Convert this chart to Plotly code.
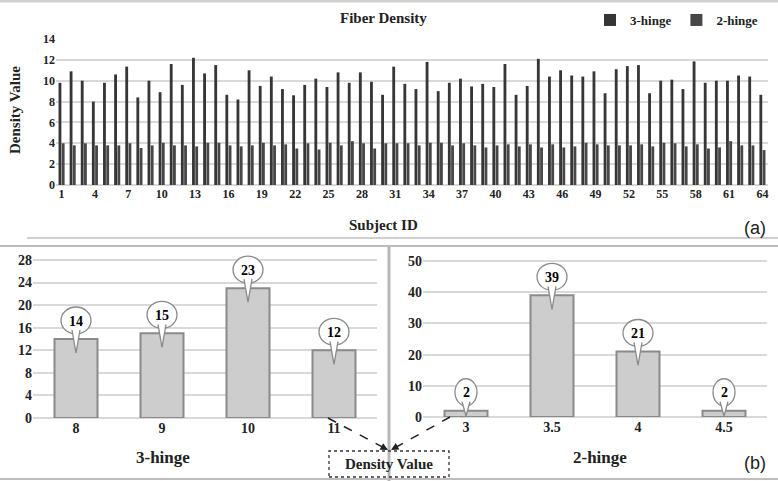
import plotly.graph_objects as go

# ---------------- data ----------------
subject_ids = list(range(1, 65))
hinge3_density = [9.8, 10.9, 10.0, 8.0, 9.8, 10.6, 11.35, 8.4, 10.0, 8.9,
                  11.6, 9.6, 12.2, 10.7, 11.5, 8.65, 8.2, 11.0, 9.5, 10.4,
                  9.2, 8.6, 9.6, 10.2, 9.4, 10.8, 9.8, 10.8, 9.9, 8.65,
                  11.35, 9.7, 9.2, 11.8, 9.0, 9.8, 10.2, 9.45, 9.7, 9.4,
                  11.6, 8.65, 9.5, 12.1, 10.4, 11.0, 10.5, 10.4, 10.9, 8.8,
                  11.1, 11.4, 11.5, 8.8, 10.0, 10.1, 9.2, 11.85, 9.8, 10.0,
                  10.0, 10.5, 10.4, 8.65]
hinge2_density = [4.0, 3.8, 4.0, 3.8, 3.8, 3.8, 4.0, 3.55, 3.8, 4.05,
                  3.8, 3.8, 3.7, 4.05, 4.05, 3.8, 3.7, 3.8, 4.05, 3.8,
                  3.9, 3.5, 4.0, 3.4, 4.05, 3.8, 4.2, 4.0, 3.5, 4.0,
                  4.0, 4.0, 3.8, 4.05, 4.05, 3.8, 4.0, 3.8, 3.6, 3.8,
                  3.9, 3.7, 3.9, 3.6, 3.9, 3.6, 3.7, 4.05, 3.9, 3.8,
                  3.8, 3.8, 3.9, 3.7, 4.05, 4.0, 3.7, 3.9, 3.5, 3.6,
                  4.2, 3.8, 3.8, 3.35]
top_tickvals = list(range(1, 65, 3))

hinge3_bins = ["8", "9", "10", "11"]
hinge3_counts = [14, 15, 23, 12]
hinge3_ticks = [0, 4, 8, 12, 16, 20, 24, 28]
hinge2_bins = ["3", "3.5", "4", "4.5"]
hinge2_counts = [2, 39, 21, 2]
hinge2_ticks = [0, 10, 20, 30, 40, 50]

# ---------------- layout helpers ----------------
W, H = 778, 481
def px(x):
    return x / W
def py(y):
    return 1 - y / H

SERIF = "Liberation Serif, Times New Roman, serif"
SANS = "Liberation Sans, Arial, sans-serif"
GRID = "#d9d9d9"

fig = go.Figure()

# top chart
fig.add_trace(go.Bar(x=subject_ids, y=hinge3_density, name="3-hinge",
                     marker=dict(color="#363636", line=dict(width=0)),
                     xaxis="x", yaxis="y"))
fig.add_trace(go.Bar(x=subject_ids, y=hinge2_density, name="2-hinge",
                     marker=dict(color="#474747", line=dict(width=0)),
                     xaxis="x", yaxis="y"))

# bottom charts
idx3 = list(range(len(hinge3_bins)))
idx2 = list(range(len(hinge2_bins)))
fig.add_trace(go.Bar(x=idx3, y=hinge3_counts, width=0.5, showlegend=False,
                     marker=dict(color="#cdcdcd", line=dict(color="#8a8a8a", width=2)),
                     xaxis="x2", yaxis="y2"))
fig.add_trace(go.Bar(x=idx2, y=hinge2_counts, width=0.5, showlegend=False,
                     marker=dict(color="#cdcdcd", line=dict(color="#8a8a8a", width=2)),
                     xaxis="x3", yaxis="y3"))

tickfont_top = dict(family=SERIF, size=12, color="#222", weight="bold")
tickfont_b = dict(family=SERIF, size=14, color="#222", weight="bold")

# bottom panels: zero at given pixel row, last tick at given pixel row,
# the range is extended a little above the last tick to leave room for bubbles
b3_zero, b3_top, b3_max = 418, 260, 31
b2_zero, b2_top, b2_max = 417, 261, 55
b3_dom_top = b3_zero - (b3_zero - b3_top) * b3_max / hinge3_ticks[-1]
b2_dom_top = b2_zero - (b2_zero - b2_top) * b2_max / hinge2_ticks[-1]

fig.update_layout(
    width=W, height=H,
    margin=dict(l=0, r=0, t=0, b=0, autoexpand=False),
    paper_bgcolor="white", plot_bgcolor="white",
    barmode="group", bargap=0.42, bargroupgap=0.12,
    showlegend=True,
    legend=dict(orientation="h", x=px(590), y=py(5), xanchor="left", yanchor="top",
                font=dict(family=SERIF, size=13, color="#222", weight="bold"),
                itemwidth=30, bgcolor="rgba(0,0,0,0)"),
    xaxis=dict(domain=[px(56), px(768)], range=[0.5, 64.5], tickmode="array",
               tickvals=top_tickvals, tickfont=tickfont_top, showgrid=False,
               zeroline=False, showline=False, ticks="", anchor="y", automargin=False),
    yaxis=dict(domain=[py(185), py(39)], range=[0, 14], dtick=2,
               tickfont=tickfont_top, gridcolor=GRID, gridwidth=1.5,
               zeroline=True, zerolinecolor=GRID, zerolinewidth=1.5,
               showline=False, ticks="", anchor="x", automargin=False),
    xaxis2=dict(domain=[px(33), px(377)], range=[-0.5, 3.5], tickmode="array",
                tickvals=idx3, ticktext=hinge3_bins, tickfont=tickfont_b,
                showgrid=False, zeroline=False, ticks="", anchor="y2", automargin=False),
    yaxis2=dict(domain=[py(b3_zero), py(b3_dom_top)], range=[0, b3_max],
                tickmode="array", tickvals=hinge3_ticks,
                tickfont=tickfont_b, gridcolor=GRID, gridwidth=1.5,
                zeroline=True, zerolinecolor=GRID, zerolinewidth=1.5,
                ticks="", anchor="x2", automargin=False),
    xaxis3=dict(domain=[px(423), px(767)], range=[-0.5, 3.5], tickmode="array",
                tickvals=idx2, ticktext=hinge2_bins, tickfont=tickfont_b,
                showgrid=False, zeroline=False, ticks="", anchor="y3", automargin=False),
    yaxis3=dict(domain=[py(b2_zero), py(b2_dom_top)], range=[0, b2_max],
                tickmode="array", tickvals=hinge2_ticks,
                tickfont=tickfont_b, gridcolor=GRID, gridwidth=1.5,
                zeroline=True, zerolinecolor=GRID, zerolinewidth=1.5,
                ticks="", anchor="x3", automargin=False),
)

shapes = []
annotations = []

# frame lines
shapes.append(dict(type="line", xref="paper", yref="paper", x0=0, x1=1, y0=py(1), y1=py(1),
                   line=dict(color="#d0d0d0", width=3)))
shapes.append(dict(type="line", xref="paper", yref="paper", x0=px(27), x1=1, y0=py(238), y1=py(238),
                   line=dict(color="#cfcfcf", width=2)))
shapes.append(dict(type="line", xref="paper", yref="paper", x0=0, x1=1, y0=py(246), y1=py(246),
                   line=dict(color="#bdbdbd", width=2)))
shapes.append(dict(type="line", xref="paper", yref="paper", x0=0, x1=1, y0=py(479), y1=py(479),
                   line=dict(color="#bdbdbd", width=2)))
# vertical divider
shapes.append(dict(type="line", xref="paper", yref="paper", x0=px(389), x1=px(389), y0=py(246), y1=0,
                   line=dict(color="#b8b8b8", width=3)))

# speech bubbles
def add_bubbles(cats_idx, counts, xref, yref, ymax, plot_h):
    for i, v in zip(cats_idx, counts):
        bar_px = v / ymax * plot_h
        tip = -min(14, max(bar_px - 1, 0))
        half_w = 15 if v >= 10 else 11
        shapes.append(dict(type="circle", xref=xref, yref=yref,
                           xsizemode="pixel", ysizemode="pixel",
                           xanchor=i, yanchor=v,
                           x0=-half_w, x1=half_w, y0=5, y1=32,
                           fillcolor="white", line=dict(color="#8a8a8a", width=1.3)))
        shapes.append(dict(type="path", xref=xref, yref=yref,
                           xsizemode="pixel", ysizemode="pixel",
                           xanchor=i, yanchor=v,
                           path=f"M -4,9 L 0,{tip} L 4,9",
                           fillcolor="white", line=dict(color="#8a8a8a", width=1.3)))
        annotations.append(dict(x=i, y=v, xref=xref, yref=yref, text=str(v),
                                showarrow=False, yshift=18, xanchor="center", yanchor="middle",
                                font=dict(family=SERIF, size=14, color="#000000", weight="bold")))

add_bubbles(idx3, hinge3_counts, "x2", "y2", hinge3_ticks[-1], b3_zero - b3_top)
add_bubbles(idx2, hinge2_counts, "x3", "y3", hinge2_ticks[-1], b2_zero - b2_top)

# dashed arrows to the "Density Value" box
for (x0, y0), (x1, y1) in [((328, 418), (388, 450)), ((450, 417), (391, 450))]:
    shapes.append(dict(type="line", xref="paper", yref="paper",
                       x0=px(x0), y0=py(y0), x1=px(x1), y1=py(y1),
                       line=dict(color="#222", width=1.5, dash="dash")))
    dx, dy = x0 - x1, y0 - y1
    n = (dx * dx + dy * dy) ** 0.5
    annotations.append(dict(x=px(x1), y=py(y1), xref="paper", yref="paper",
                            ax=dx / n * 9, ay=dy / n * 9, showarrow=True,
                            arrowhead=2, arrowsize=1, arrowwidth=1.5,
                            arrowcolor="#222", text=""))

shapes.append(dict(type="rect", xref="paper", yref="paper",
                   x0=px(329), x1=px(449), y0=py(477), y1=py(451),
                   line=dict(color="#333", width=1.3, dash="dot")))

# text annotations
def txt(x, y, text, size, family=SERIF, angle=0, color="#222", bold=True):
    annotations.append(dict(x=px(x), y=py(y), xref="paper", yref="paper", text=text,
                            showarrow=False, textangle=angle,
                            xanchor="center", yanchor="middle",
                            font=dict(family=family, size=size, color=color,
                                      weight="bold" if bold else "normal")))

txt(383, 18, "Fiber Density", 15)
txt(383, 225, "Subject ID", 15)
txt(15, 110, "Density Value", 15, angle=-90)
txt(755, 228, "(a)", 18, family=SANS, bold=False)
txt(755, 463, "(b)", 18, family=SANS, bold=False)
txt(163, 457, "3-hinge", 17)
txt(600, 457, "2-hinge", 17)
txt(389, 464, "Density Value", 15)

fig.update_layout(shapes=shapes, annotations=annotations)
fig.write_html("out.html", config={"displayModeBar": False},
               post_script="document.body.style.margin='0';document.body.style.padding='0';")
